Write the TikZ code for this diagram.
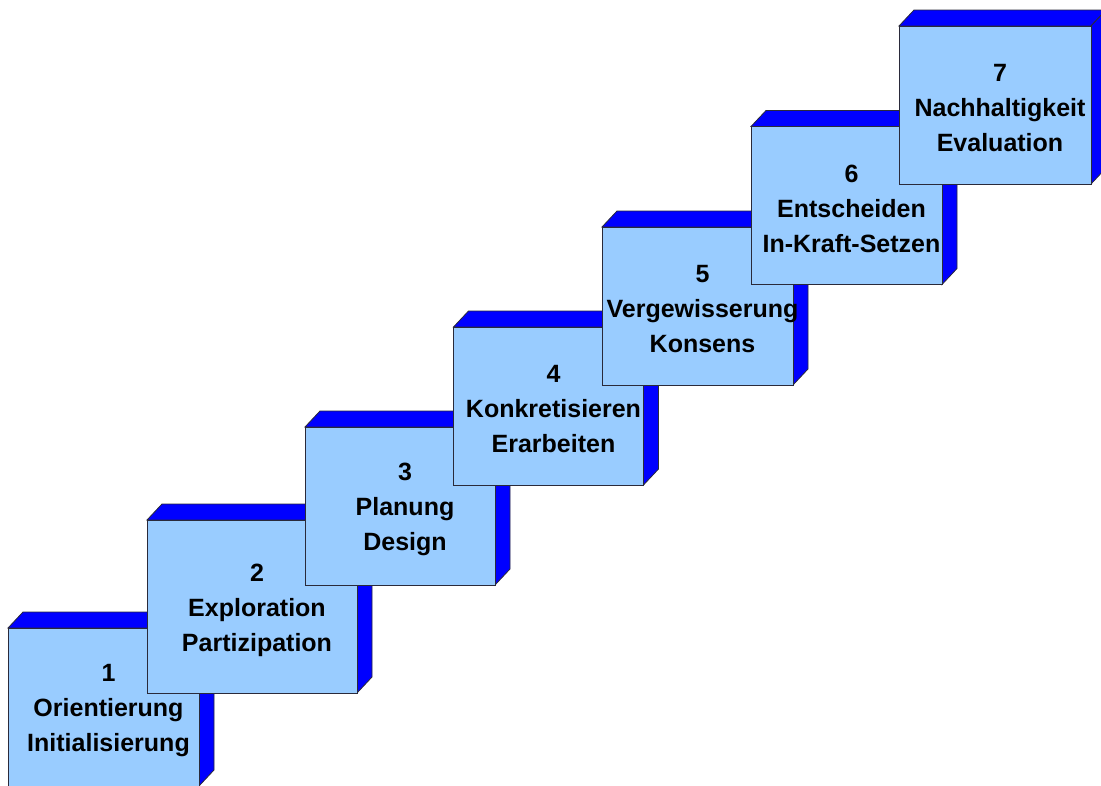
\documentclass[tikz,border=0pt]{standalone}
\usepackage{fontspec}
\setmainfont{Liberation Sans}
\definecolor{frontblue}{HTML}{99CCFF}
\definecolor{darkface}{HTML}{0000FF}
\definecolor{edgegray}{HTML}{2A2A3A}
\tikzset{
  facestyle/.style={fill=darkface, draw=edgegray, line width=0.8pt, line join=miter},
  frontstyle/.style={fill=frontblue, draw=edgegray, line width=0.8pt, inner sep=0pt, outer sep=0pt, anchor=north west},
  labelstyle/.style={align=center, font=\fontsize{25}{35}\selectfont\bfseries, inner sep=0pt, text=black}
}
% #1 name, #2 x, #3 y (top, downward), #4 width, #5 height, #6 text
\newcommand{\drawcube}[6]{%
  \filldraw[facestyle] (#2,#3) -- ({#2+15},{#3-16}) -- ({#2+#4+15},{#3-16}) -- ({#2+#4},#3) -- cycle;
  \filldraw[facestyle] ({#2+#4},#3) -- ({#2+#4+15},{#3-16}) -- ({#2+#4+15},{#3+#5-16}) -- ({#2+#4},{#3+#5}) -- cycle;
  \node[frontstyle, minimum width=#4pt, minimum height=#5pt] (#1) at (#2,#3) {};
  \node[labelstyle] (#1t) at ([xshift=5pt,yshift=-3.5pt]#1.center) {#6};
}
\begin{document}
\begin{tikzpicture}[x=1pt,y=-1pt]
\useasboundingbox (0,0) rectangle (1101,785);
\drawcube{b1}{8}{628}{191}{158}{1\\Orientierung\\Initialisierung}
\drawcube{b2}{147}{520}{210}{173}{2\\Exploration\\Partizipation}
\drawcube{b3}{305}{427}{190}{158}{3\\Planung\\Design}
\drawcube{b4}{453.5}{327}{190}{158}{4\\Konkretisieren\\Erarbeiten}
\drawcube{b5}{602}{227}{191}{158}{5\\Vergewisserung\\Konsens}
\drawcube{b6}{751}{126.5}{191}{158}{6\\Entscheiden\\In-Kraft-Setzen}
\drawcube{b7}{899}{26}{192}{158}{7\\Nachhaltigkeit\\Evaluation}
\end{tikzpicture}
\end{document}
